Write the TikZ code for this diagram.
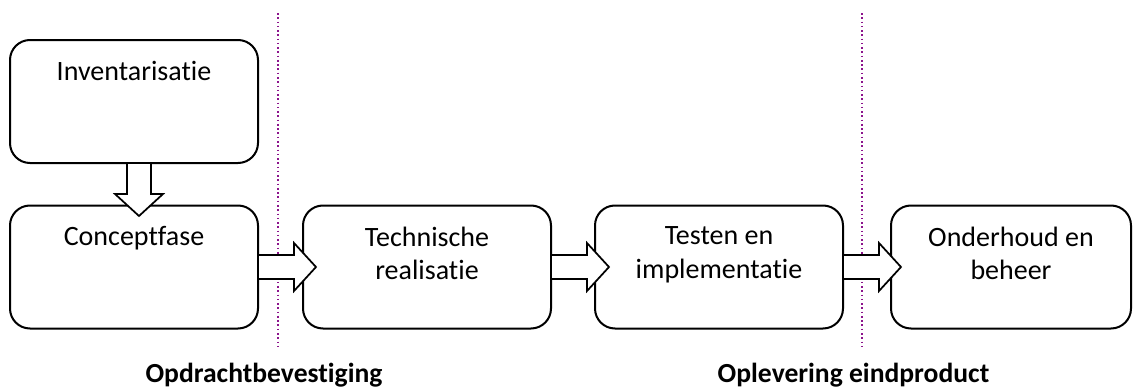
\documentclass[tikz,border=0pt]{standalone}
\usepackage{fontspec}
\setmainfont{Carlito}[Ligatures=NoCommon]
\usetikzlibrary{positioning}
\definecolor{dotpurple}{RGB}{140,20,140}

\tikzset{
    phase/.style={draw, line width=1.5pt, rounded corners=15pt, fill=white,
        minimum width=186pt, minimum height=92.25pt, inner sep=0pt},
    phasetext/.style={anchor=north, align=center, inner sep=0pt,
        font=\fontsize{21}{25}\selectfont},
    blockarrow/.style={draw, fill=white, line width=1.3pt, line join=miter},
    milestone/.style={dotpurple, line width=1.2pt, dotted},
    milestonetext/.style={anchor=base, inner sep=0pt, font=\fontsize{20.7}{25}\selectfont\bfseries}
}

\begin{document}
    \begin{tikzpicture}[x=0.75pt, y=-0.75pt]
        \useasboundingbox (0,0) rectangle (1133,389);

        % Draw milestones
        \coordinate (m1top) at (278,13);
        \coordinate (m1bot) at (278,347);
        \coordinate (m2top) at (862,13);
        \coordinate (m2bot) at (862,347);
        \draw[milestone] (m1top) -- (m1bot);
        \draw[milestone] (m2top) -- (m2bot);

        % Draw phases
        \node[phase] (inv) at (134,101.5) {};
        \node[phase] (concept) at (134,267) {};
        \node[phase] (tech) at (427,267) {};
        \node[phase] (test) at (719,267) {};
        \node[phase, minimum width=180pt] (beheer) at (1011,267) {};

        \node[phasetext, below=16.5pt of inv.north] (invtext) {Inventarisatie};
        \node[phasetext, below=16.5pt of concept.north] (concepttext) {Conceptfase};
        \node[phasetext, below=16.5pt of tech.north] (techtext) {Technische\\realisatie};
        \node[phasetext, below=16.5pt of test.north] (testtext) {Testen en\\implementatie};
        \node[phasetext, below=16.5pt of beheer.north] (beheertext) {Onderhoud en\\beheer};

        % Draw block arrows
        \draw[blockarrow] (inv.south) ++(-7,0) -- ++(0,30) -- ++(-12,0) -- ++(24,22)
            -- ++(24,-22) -- ++(-12,0) -- ++(0,-30);
        \draw[blockarrow] (concept.east) ++(0,-12) -- ++(35,0) -- ++(0,-12) -- ++(22,24)
            -- ++(-22,24) -- ++(0,-12) -- ++(-35,0);
        \draw[blockarrow] (tech.east) ++(0,-12) -- ++(35,0) -- ++(0,-12) -- ++(22,24)
            -- ++(-22,24) -- ++(0,-12) -- ++(-35,0);
        \draw[blockarrow] (test.east) ++(0,-12) -- ++(35,0) -- ++(0,-12) -- ++(22,24)
            -- ++(-22,24) -- ++(0,-12) -- ++(-35,0);

        % Draw milestone labels
        \node[milestonetext] (m1text) at (264,382) {Opdrachtbevestiging};
        \node[milestonetext] (m2text) at (853.5,382) {Oplevering eindproduct};
    \end{tikzpicture}
\end{document}
